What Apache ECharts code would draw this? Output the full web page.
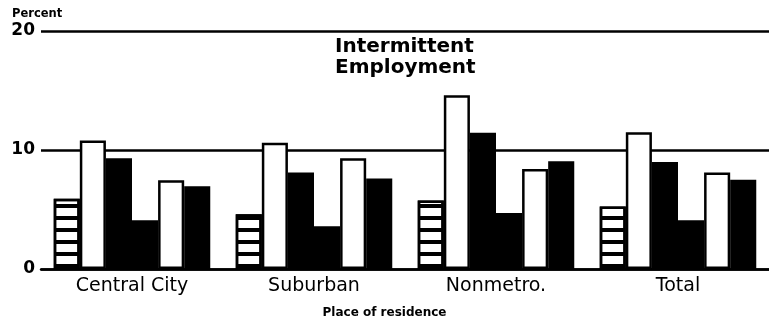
<!DOCTYPE html>
<html>
<head>
<meta charset="utf-8">
<script src="https://cdn.jsdelivr.net/npm/echarts@6/dist/echarts.min.js"></script>
<style>
  html, body { margin: 0; padding: 0; background: #fff; }
  #chart { width: 769px; height: 326px; }
</style>
</head>
<body>
<div id="chart"></div>
<script>
// Place of residence categories
const categories = ['Central City', 'Suburban', 'Nonmetro.', 'Total'];

// Percent values, six bars per category (left to right)
const hatchedA = [5.9, 4.6, 5.75, 5.25];
const whiteA   = [10.8, 10.6, 14.6, 11.5];
const blackA   = [9.3, 8.1, 11.45, 9.0];
const blackB   = [4.1, 3.6, 4.7, 4.1];
const whiteB   = [7.45, 9.3, 8.4, 8.1];
const blackC   = [6.95, 7.6, 9.05, 7.5];

const yTicks = [0, 10, 20];

const FONT = '"DejaVu Sans", Arial, sans-serif';

// horizontal black stripes over a white fill
const stripes = {
  symbol: 'rect',
  symbolSize: 1,
  dashArrayX: [1, 0],
  dashArrayY: [4, 8],
  rotation: 0,
  color: '#000',
  backgroundColor: 'rgba(0,0,0,0)'
};

function barSeries(name, data, fill, decal) {
  const s = {
    name: name,
    type: 'bar',
    data: data,
    barGap: 0,
    barCategoryGap: '14%',
    itemStyle: { color: fill, borderColor: '#000', borderWidth: 2.5 },
    emphasis: { disabled: true },
    silent: true
  };
  if (decal) s.itemStyle.decal = decal;
  return s;
}

const chart = echarts.init(document.getElementById('chart'), null, { renderer: 'canvas' });

chart.setOption({
  animation: false,
  backgroundColor: '#fff',
  aria: { enabled: false, decal: { show: true } },
  grid: { left: 41, right: 0, top: 31, bottom: 57 },
  graphic: [
    {
      type: 'text', left: 12, top: 8,
      style: { text: 'Percent', font: 'bold 11.5px ' + FONT, fill: '#000' }
    },
    {
      type: 'text', left: 335, top: 36,
      style: { text: 'Intermittent\nEmployment', font: 'bold 20px ' + FONT, lineHeight: 21, fill: '#000' }
    },
    {
      type: 'text', left: 'center', top: 307,
      style: { text: 'Place of residence', font: 'bold 12px ' + FONT, fill: '#000' }
    }
  ],
  xAxis: {
    type: 'category',
    data: categories,
    axisLine: { lineStyle: { color: '#000', width: 2.5 } },
    axisTick: { show: false },
    axisLabel: { color: '#000', fontFamily: FONT, fontSize: 19, margin: 8 }
  },
  yAxis: {
    type: 'value',
    min: yTicks[0],
    max: yTicks[yTicks.length - 1],
    interval: yTicks[1] - yTicks[0],
    axisLine: { show: false },
    axisTick: { show: false },
    axisLabel: { color: '#000', fontFamily: FONT, fontSize: 17, fontWeight: 'bold', margin: 6 },
    splitLine: { lineStyle: { color: '#000', width: 2.5 } }
  },
  series: [
    barSeries('hatchedA', hatchedA, '#fff', stripes),
    barSeries('whiteA', whiteA, '#fff'),
    barSeries('blackA', blackA, '#000'),
    barSeries('blackB', blackB, '#000'),
    barSeries('whiteB', whiteB, '#fff'),
    barSeries('blackC', blackC, '#000')
  ]
});
</script>
</body>
</html>
